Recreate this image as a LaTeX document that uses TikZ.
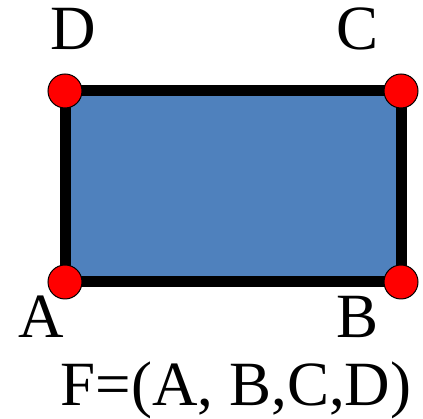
\documentclass[tikz,border=0pt]{standalone}
\usepackage{fontspec}
\setmainfont{Liberation Serif}
\definecolor{faceblue}{RGB}{79,129,189}
\begin{document}
\begin{tikzpicture}[x=1pt,y=1pt,inner sep=0pt,
  vtx/.style={circle,fill=red,draw=black,line width=1pt,minimum size=34pt},
  lbl/.style={anchor=base,font=\fontsize{63}{70}\selectfont}]
\useasboundingbox (0,0) rectangle (423,419);
\coordinate (pa) at (65,137);
\coordinate (pb) at (401,137);
\coordinate (pc) at (401,328);
\coordinate (pd) at (65,328);

\draw[line width=11pt,fill=faceblue] (pa) -- (pb) -- (pc) -- (pd) -- cycle;
\node[vtx] (va) at (pa) {};
\node[vtx] (vb) at (pb) {};
\node[vtx] (vc) at (pc) {};
\node[vtx] (vd) at (pd) {};

\node[lbl] (la) at (41,81) {A};
\node[lbl] (lb) at (358,81) {B};
\node[lbl] (lc) at (358,369) {C};
\node[lbl] (ld) at (73,369) {D};
\node[lbl] (lf) at (236,13) {F=(A, B,C,D)};
\end{tikzpicture}
\end{document}
